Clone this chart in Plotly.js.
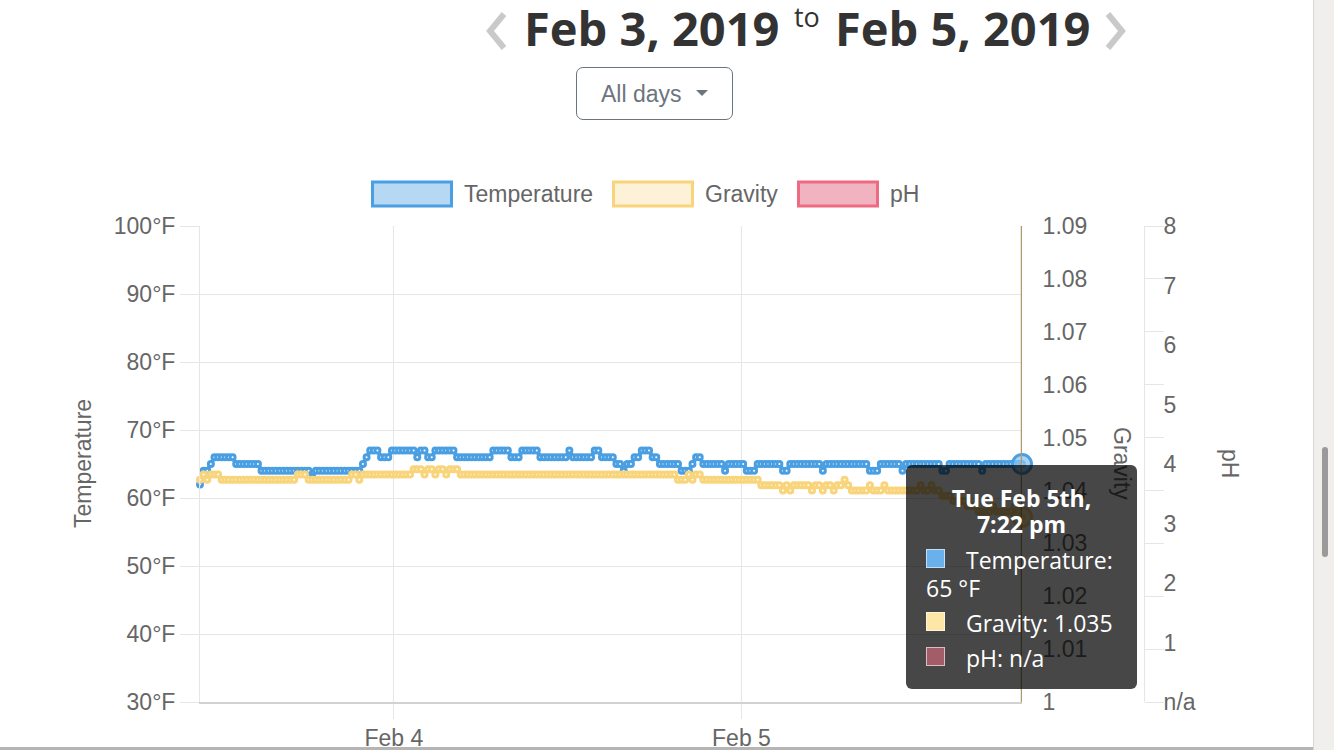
<!DOCTYPE html>
<html>
<head>
<meta charset="utf-8">
<script src="https://cdn.plot.ly/plotly-3.0.1.min.js"></script>
<style>
    html, body { margin: 0; padding: 0; width: 1334px; height: 750px; overflow: hidden; background: #fff; }
    #chart { position: absolute; left: 0; top: 0; width: 1334px; height: 750px; }
    .title { position: absolute; font-family: 'Open Sans', sans-serif; font-weight: 700; color: #333; font-size: 47px; line-height: 1.2; white-space: nowrap; }
    .title.to { font-weight: 400; font-size: 27px; }
    .chev { position: absolute; top: 10px; }
    .btn { position: absolute; left: 576px; top: 67px; width: 155px; height: 51px; border: 1.5px solid #6c757d; border-radius: 7px; }
    .btn span { position: absolute; left: 24px; top: 13px; font: 23px 'Liberation Sans', Arial, sans-serif; color: #6c757d; }
    .btn i { position: absolute; left: 119px; top: 22px; width: 0; height: 0; border-left: 6px solid transparent; border-right: 6px solid transparent; border-top: 6px solid #6c757d; }
    .strip { position: absolute; left: 1313px; top: 0; width: 21px; height: 750px; background: #f0efeb; border-left: 1px solid #d6d6d6; }
    .thumb { position: absolute; left: 1322px; top: 447px; width: 6px; height: 110px; border-radius: 3px; background: #9a9a9a; }
    .bottom { position: absolute; left: 0; top: 747px; width: 1313px; height: 3px; background: #b5b5b5; }
    .tip { position: absolute; left: 906px; top: 465px; width: 231px; height: 224px; border-radius: 6px; background: rgba(0,0,0,0.72); color: #fff; font-family: 'Open Sans', sans-serif; font-size: 23px; }
    .tip div { position: absolute; white-space: nowrap; line-height: 28px; }
    .tip .head { left: 0; width: 231px; text-align: center; font-weight: 700; }
    .tip .sw { width: 17px; height: 17px; border: 1px solid rgba(255,255,255,0.6); }
</style>
</head>
<body>
<div id="chart"></div>

<svg class="chev" style="left:482px" width="30" height="42"><polyline points="22,4 8,21 22,38" fill="none" stroke="#c9c9c9" stroke-width="6"/></svg>
<div class="title" style="left:524px; top:0px">Feb 3, 2019</div>
<div class="title to" style="left:794px; top:1px">to</div>
<div class="title" style="left:835px; top:0px">Feb 5, 2019</div>
<svg class="chev" style="left:1100px" width="30" height="42"><polyline points="8,4 22,21 8,38" fill="none" stroke="#c9c9c9" stroke-width="6"/></svg>

<div class="btn"><span>All days</span><i></i></div>
<div class="strip"></div>
<div class="thumb"></div>
<div class="bottom"></div>
<div class="tip" id="tip"></div>

<script>
// ── Temperatura / Gravedad / pH  (Feb 3 – Feb 5, 2019), lecturas cada 15 min ──

const seriesNames = ['Temperature', 'Gravity', 'pH'];

const temperature = [
    62,64,64,65,66,66,66,66,66,66,
    65,65,65,65,65,65,65,64,64,64,
    64,64,64,64,64,64,64,64,64,64,
    64,63,64,64,64,64,64,64,64,64,
    64,64,64,64,64,65,66,67,67,67,
    66,66,66,67,67,67,67,67,67,67,
    66,67,67,66,66,67,67,67,67,67,
    67,66,66,66,66,66,66,66,66,66,
    66,67,67,67,67,67,66,66,66,67,
    67,67,67,67,66,66,66,66,66,66,
    66,66,67,66,66,66,66,66,66,67,
    67,66,66,66,66,65,65,64,65,65,
    66,66,67,67,67,66,66,65,65,65,
    65,65,65,64,64,64,65,66,66,65,
    65,65,65,65,65,64,65,65,65,65,
    65,64,64,64,65,65,65,65,65,65,
    65,64,64,65,65,65,65,65,65,65,
    65,65,64,65,65,65,65,65,65,65,
    65,65,65,65,65,64,64,64,65,65,
    65,65,65,65,64,65,65,65,65,65,
    65,65,65,65,65,64,64,65,65,65,
    65,65,65,65,65,65,64,65,65,65,
    65,65,65,65,65,65,65,65,
];

const gravity = [
    1.042,1.043,1.042,1.043,1.043,1.043,1.042,1.042,1.042,1.042,
    1.042,1.042,1.042,1.042,1.042,1.042,1.042,1.042,1.042,1.042,
    1.042,1.042,1.042,1.042,1.042,1.042,1.042,1.043,1.043,1.043,
    1.042,1.042,1.042,1.042,1.042,1.042,1.042,1.042,1.042,1.042,
    1.042,1.042,1.043,1.043,1.042,1.043,1.043,1.043,1.043,1.043,
    1.043,1.043,1.043,1.043,1.043,1.043,1.043,1.043,1.043,1.044,
    1.044,1.044,1.043,1.044,1.044,1.043,1.044,1.044,1.043,1.044,
    1.044,1.044,1.043,1.043,1.043,1.043,1.043,1.043,1.043,1.043,
    1.043,1.043,1.043,1.043,1.043,1.043,1.043,1.043,1.043,1.043,
    1.043,1.043,1.043,1.043,1.043,1.043,1.043,1.043,1.043,1.043,
    1.043,1.043,1.043,1.043,1.043,1.043,1.043,1.043,1.043,1.043,
    1.043,1.043,1.043,1.043,1.043,1.043,1.043,1.043,1.043,1.043,
    1.043,1.043,1.043,1.043,1.043,1.043,1.043,1.043,1.043,1.043,
    1.043,1.043,1.042,1.042,1.042,1.043,1.042,1.043,1.043,1.042,
    1.042,1.042,1.042,1.042,1.042,1.042,1.042,1.042,1.042,1.042,
    1.042,1.042,1.042,1.042,1.042,1.041,1.041,1.041,1.041,1.041,
    1.041,1.040,1.041,1.040,1.041,1.041,1.041,1.041,1.041,1.040,
    1.041,1.041,1.040,1.041,1.041,1.040,1.041,1.041,1.042,1.041,
    1.040,1.040,1.040,1.040,1.040,1.041,1.040,1.040,1.040,1.041,
    1.040,1.040,1.040,1.040,1.040,1.040,1.040,1.040,1.040,1.041,
    1.040,1.040,1.041,1.040,1.040,1.039,1.039,1.039,1.038,1.038,
    1.038,1.038,1.037,1.037,1.037,1.036,1.036,1.036,1.036,1.037,
    1.036,1.036,1.036,1.036,1.036,1.037,1.036,1.035,
];

// pH: sin lecturas en todo el periodo (n/a)
const ph = [];

const tempTicks    = [30, 40, 50, 60, 70, 80, 90, 100];
const tempText     = ['30°F', '40°F', '50°F', '60°F', '70°F', '80°F', '90°F', '100°F'];
const gravityTicks = [1.00, 1.01, 1.02, 1.03, 1.04, 1.05, 1.06, 1.07, 1.08, 1.09];
const gravityText  = ['1', '1.01', '1.02', '1.03', '1.04', '1.05', '1.06', '1.07', '1.08', '1.09'];
const phTicks      = [0, 1, 2, 3, 4, 5, 6, 7, 8];
const phText       = ['n/a', '1', '2', '3', '4', '5', '6', '7', '8'];
const dayTicks     = ['2019-02-04 00:00', '2019-02-05 00:00'];
const dayText      = ['Feb 4', 'Feb 5'];

const TIME_START = Date.UTC(2019, 1, 3, 10, 37);
const STEP_MIN   = 15;
const times = temperature.map((_, i) =>
    new Date(TIME_START + i * STEP_MIN * 60000).toISOString().slice(0, 16).replace('T', ' '));
const last = times.length - 1;

// colores
const C = {
    azul: '#4a9fe3', azulFill: '#b7d8f3',
    amarillo: '#f8d47a', amarilloFill: '#fdf2d8',
    rosa: '#ee6a83', rosaFill: '#f2b3c0',
    grid: '#e6e6e6', texto: '#666',
};

// píxel -> coordenadas de papel (área de trazado 200..1314 x 226..702)
const px = x => (x - 200) / 1114;
const py = y => (702 - y) / 476;

const FONT = { family: 'Liberation Sans, Arial, sans-serif', size: 23, color: C.texto };

const lineTrace = (y, axis, color) => ({
    type: 'scatter', mode: 'lines+markers', x: times, y, yaxis: axis,
    line: { color, width: 4 },
    marker: { size: 5, color: '#fff', line: { color, width: 3 } },
    cliponaxis: false, hoverinfo: 'skip',
});

const hoverDot = (y, axis, color, fill) => ({
    type: 'scatter', mode: 'markers', x: [times[last]], y: [y], yaxis: axis,
    marker: { size: 19, color: fill, line: { color, width: 3 } },
    cliponaxis: false, hoverinfo: 'skip',
});

const traces = [
    lineTrace(gravity, 'y2', C.amarillo),
    lineTrace(temperature, 'y', C.azul),
    { type: 'scatter', mode: 'lines', x: times.slice(0, ph.length), y: ph, yaxis: 'y3', line: { color: C.rosa } },
    { type: 'scatter', mode: 'lines', x: [], y: [], yaxis: 'y4' },
    hoverDot(gravity[last], 'y2', C.amarillo, 'rgba(250,220,140,0.6)'),
    hoverDot(temperature[last], 'y', C.azul, 'rgba(140,195,240,0.75)'),
];

// leyenda dibujada a mano (cajas estilo Chart.js)
const legend = [
    { x: 371, border: C.azul, fill: C.azulFill },
    { x: 612, border: C.amarillo, fill: C.amarilloFill },
    { x: 797, border: C.rosa, fill: C.rosaFill },
];

const shapes = legend.map(l => ({
    type: 'rect', xref: 'paper', yref: 'paper',
    x0: px(l.x + 1.5), x1: px(l.x + 80.5), y0: py(206), y1: py(182),
    line: { color: l.border, width: 3 }, fillcolor: l.fill,
}));
shapes.push({
    type: 'line', xref: 'x', yref: 'paper', x0: times[last], x1: times[last], y0: 0, y1: 1,
    line: { color: '#b09a6c', width: 2.5 },
});

const annotations = legend.map((l, i) => ({
    xref: 'paper', yref: 'paper', x: px(l.x + 91), y: py(194),
    xanchor: 'left', yanchor: 'middle', showarrow: false,
    text: seriesNames[i], font: FONT,
}));
const axisTitle = (x, angle, text) => ({
    xref: 'paper', yref: 'paper', x: px(x), y: py(463), xanchor: 'center', yanchor: 'middle',
    textangle: angle, showarrow: false, text, font: FONT,
});
annotations.push(
    axisTitle(83, -90, 'Temperature'),
    axisTitle(1122, 90, 'Gravity'),
    axisTitle(1230, 90, 'pH'),
);

const layout = {
    width: 1334, height: 750,
    margin: { l: 200, r: 20, t: 226, b: 48, pad: 0 },
    paper_bgcolor: 'rgba(0,0,0,0)', plot_bgcolor: '#fff',
    showlegend: false, font: FONT,
    xaxis: {
        type: 'date', domain: [0, px(1022)], range: [times[0], times[last]],
        tickvals: dayTicks, ticktext: dayText,
        showgrid: true, gridcolor: C.grid, zeroline: false,
        ticks: 'outside', ticklen: 15, tickcolor: C.grid,
        showline: true, linecolor: '#d2d2d2', linewidth: 1.5,
    },
    yaxis: {
        range: [30, 100], tickvals: tempTicks, ticktext: tempText,
        showgrid: true, gridcolor: C.grid, zeroline: false,
        ticks: 'outside', ticklen: 19, tickcolor: C.grid,
        showline: true, linecolor: C.grid,
    },
    yaxis2: {
        overlaying: 'y', side: 'right', anchor: 'x',
        range: [1.00, 1.09], tickvals: gravityTicks, ticktext: gravityText,
        showgrid: false, zeroline: false,
        ticks: 'outside', ticklen: 15, tickcolor: 'rgba(0,0,0,0)',
    },
    yaxis3: {
        overlaying: 'y', side: 'right', anchor: 'free', position: px(1144),
        range: [0, 8], tickvals: phTicks, ticktext: phText,
        showgrid: false, zeroline: false,
        ticks: 'outside', ticklen: 14, tickcolor: 'rgba(0,0,0,0)',
    },
    // marcas cortas del eje pH (Chart.js las alinea con la escala de gravedad)
    yaxis4: {
        overlaying: 'y', side: 'right', anchor: 'free', position: px(1144),
        range: [1.00, 1.09], tickvals: gravityTicks, showticklabels: false,
        showgrid: false, zeroline: false,
        ticks: 'outside', ticklen: 19, tickcolor: C.grid,
        showline: true, linecolor: C.grid,
    },
    shapes, annotations,
};

Plotly.newPlot('chart', traces, layout, { staticPlot: true, displayModeBar: false });

// tooltip del último punto
const tip = document.getElementById('tip');
const row = (top, left, html) => `<div style="top:${top}px;left:${left}px">${html}</div>`;
const sw = (top, color) => `<div class="sw" style="top:${top}px;left:20px;background:${color}"></div>`;
tip.innerHTML =
    '<div class="head" style="top:19px">Tue Feb 5th,</div>' +
    '<div class="head" style="top:45px">7:22 pm</div>' +
    sw(84, '#6ab0ea') + row(81, 60, seriesNames[0] + ':') +
    row(109, 20, temperature[last] + ' °F') +
    sw(147, '#fde6a6') + row(144, 60, seriesNames[1] + ': ' + gravity[last].toFixed(3)) +
    sw(182, '#a35d69') + row(179, 60, seriesNames[2] + ': n/a');
</script>
</body>
</html>
